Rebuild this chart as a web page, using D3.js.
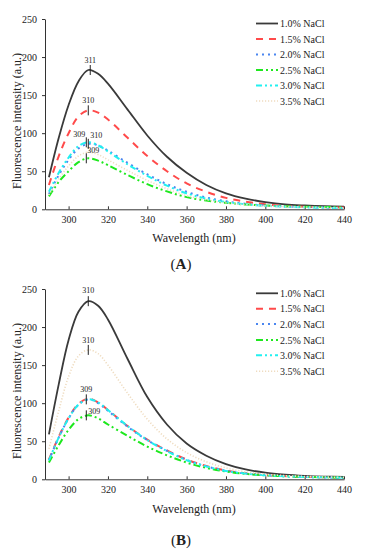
<!DOCTYPE html>
<html><head><meta charset="utf-8">
<script src="https://cdn.jsdelivr.net/npm/d3@7"></script>
<style>
body{margin:0;background:#fff}
svg{display:block}
</style>
</head><body>
<svg id="c" width="367" height="550"></svg>
<script>
// ---------- data ----------
const wavelengths = [290,295,300,305,310,315,320,330,340,350,360,370,380,390,400,410,420,430,440];
const seriesNames = ["1.0% NaCl","1.5% NaCl","2.0% NaCl","2.5% NaCl","3.0% NaCl","3.5% NaCl"];
const xTicks = [300,320,340,360,380,400,420,440];
const yTicks = [0,50,100,150,200,250];

// Panel A
const a10 = [42,94,137,168,183,178,165,131,97,69,48,32,21,14,9.5,6.5,5,4,3.5];
const a15 = [32,70,100,122,130,127,118,94,70,50,34,23,15,10,6.5,4.5,3.3,2.6,2.2];
const a20 = [20,45,65,80,86,84,77,61,46,33,23,15.5,10.5,7.2,5,3.8,3,2.5,2];
const a25 = [17,36,50,62,67,64,58,45,33,23.5,16,11.5,8.5,6.3,5,4,3.4,3,2.6];
const a30 = [23,48,68,83,88,84,76,59,44,31,21,14,9.5,6.5,4.6,3.4,2.6,2,1.6];
const a35 = [19,40,57,70,75,72,65,51,38,27,18,12.5,8.5,6,4.5,3.5,3,2.5,2];
const peakSeriesA = [0,1,4,2,3];
const peakNmA = [311,310,309,310,309];
const peakValA = [183,130,88,86,67];
const peakLabelA = ["311","310","309","310","309"];

// Panel B
const b10 = [59,125,183,220,234,228,210,158,108,72,47,31,20,13,8.7,6.2,4.6,3.6,3];
const b15 = [26,56,81,99,106,101,91,70,52,38,26,17.5,11.5,7.8,5.6,4.2,3.2,2.6,2.2];
const b20 = [25,55,80,98,105,100,90,69,51.5,37.5,25.5,17,11.2,7.6,5.5,4.1,3.1,2.5,2.1];
const b25 = [22,45,65,79,84,80,72,57,43,31.5,22,15,10.2,7.1,5.2,4,3.1,2.6,2.2];
const b30 = [25,55,80,98,105,101,91,70,51.5,37,25,17,11,7.5,5.3,4,3,2.5,2];
const b35 = [40,90,135,162,170,165,150,113,79,53,35,23,15,9.8,6.6,4.8,3.7,3,2.6];
const peakSeriesB = [0,5,1,3];
const peakNmB = [310,310,309,309];
const peakValB = [234,170,105,84];
const peakLabelB = ["310","310","309","309"];

// ---------- styles ----------
const styles = [
  {color:"#3a3a3a", dash:null, w:1.8},
  {color:"#ff4a4a", dash:"7,6", w:2},
  {color:"#4a86f0", dash:"2,4", w:2},
  {color:"#1ee81e", dash:"7,3,2,3,2,3", w:2},
  {color:"#22f0f0", dash:"6,3,2,3,2,3", w:2},
  {color:"#efdcc0", dash:"1.2,1.8", w:1.6}
];
const serif = "Liberation Serif";
const placeA = [["middle",0,-2],["middle",0,-2],["end",-1,0],["start",2,-1],["start",1,0]];
const placeB = [["middle",0,-3],["middle",0,-2],["middle",0,-2.5],["start",2,4]];

const svg = d3.select("#c");
const x = d3.scaleLinear().domain([288,440]).range([45,344]);
const y = d3.scaleLinear().domain([0,250]).range([209.3,19]);

function txt(g){ return g.append("text").attr("font-family", serif).attr("fill","#222"); }

function panel(top, data, pSeries, pNm, pVal, pLab, place, legendRows, titleOff, letter, letterY) {
  const g = svg.append("g").attr("transform", `translate(0,${top})`);
  const ya = g.append("g").attr("transform","translate(45,0)")
    .call(d3.axisLeft(y).tickValues(yTicks).tickSizeInner(3).tickSizeOuter(0).tickPadding(5));
  const xa = g.append("g").attr("transform","translate(0,209.3)")
    .call(d3.axisBottom(x).tickValues(xTicks).tickSizeInner(-3).tickSizeOuter(0).tickPadding(7));
  [ya,xa].forEach(a=>{
    a.attr("font-family", serif);
    a.selectAll("path,line").attr("stroke","#333").attr("stroke-width",1);
    a.selectAll("text").attr("font-family", serif).attr("font-size",10).attr("fill","#222");
  });
  const line = d3.line().x((d,i)=>x(wavelengths[i])).y(d=>y(d)).curve(d3.curveCatmullRom.alpha(0.5));
  data.forEach((s,k)=>{
    const st = styles[k];
    g.append("path").attr("d", line(s)).attr("fill","none")
      .attr("stroke", st.color).attr("stroke-width", st.w)
      .attr("stroke-dasharray", st.dash).attr("stroke-linejoin","round");
  });
  pNm.forEach((nm,i)=>{
    const px = x(nm), py = y(pVal[i]);
    const t0 = py-5, t1 = py+5;
    g.append("line").attr("x1",px).attr("x2",px).attr("y1",t0).attr("y2",t1)
      .attr("stroke","#222").attr("stroke-width",1);
    const p = place[i];
    txt(g).attr("x",px+p[1]).attr("y",t0+p[2])
      .attr("text-anchor",p[0]).attr("font-size",8).text(pLab[i]);
  });
  seriesNames.forEach((n,k)=>{
    const st = styles[k], ly = legendRows[k];
    g.append("line").attr("x1",256).attr("x2",278).attr("y1",ly).attr("y2",ly)
      .attr("stroke",st.color).attr("stroke-width",st.w).attr("stroke-dasharray",st.dash);
    txt(g).attr("x",280).attr("y",ly).attr("dy","0.35em").attr("font-size",10).text(n);
  });
  txt(g).attr("x",194).attr("y",titleOff).attr("dy","0.35em")
    .attr("text-anchor","middle").attr("font-size",12).text("Wavelength (nm)");
  txt(g).attr("transform",`translate(16.5,121) rotate(-90)`).attr("dy","0.35em")
    .attr("text-anchor","middle").attr("font-size",12).text("Fluorescence intensity (a.u.)");
  const lt = txt(g).attr("x",181).attr("y",letterY).attr("dy","0.35em")
    .attr("text-anchor","middle").attr("font-size",15);
  lt.append("tspan").attr("font-weight","normal").text("(");
  lt.append("tspan").attr("font-weight","bold").text(letter);
  lt.append("tspan").attr("font-weight","normal").text(")");
}

panel(0, [a10,a15,a20,a25,a30,a35], peakSeriesA, peakNmA, peakValA, peakLabelA, placeA,
  [23.5,39,54.5,70,85.5,101], 237.3, "A", 264);
panel(270, [b10,b15,b20,b25,b30,b35], peakSeriesB, peakNmB, peakValB, peakLabelB, placeB,
  [23.3,38.7,54,70,85.3,101.3], 238.3, "B", 269.3);
</script>
</body></html>
